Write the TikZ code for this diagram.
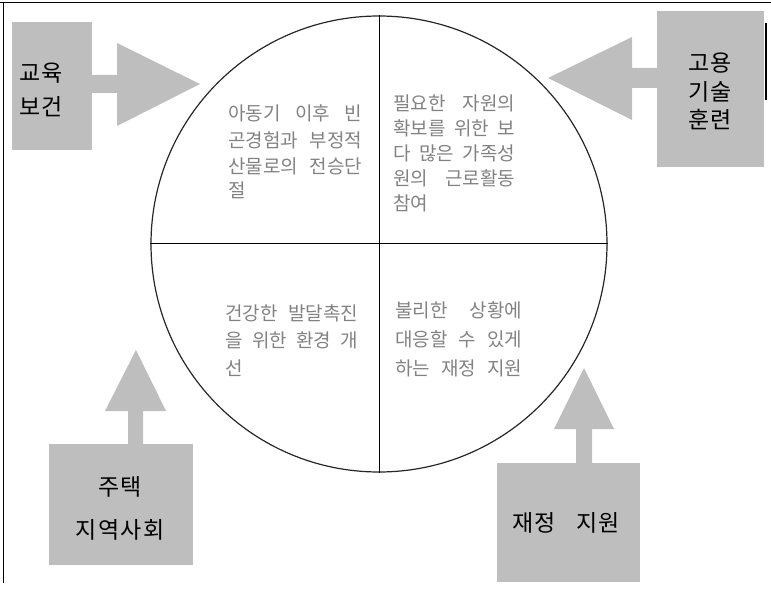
\documentclass[tikz,border=0pt]{standalone}
\usepackage{fontspec}
\setmainfont{Noto Sans CJK KR}
\newfontfamily\boxfont[LetterSpace=6]{Noto Sans CJK KR}
\definecolor{boxgray}{RGB}{190,190,190}
\definecolor{circtext}{RGB}{130,130,130}
\begin{document}
\begin{tikzpicture}[x=1pt,y=-1pt,
  graybox/.style={fill=boxgray, draw=none, inner sep=0pt},
  boxlabel/.style={font=\boxfont\fontsize{23}{28}\selectfont, align=center, text=black, inner sep=0pt},
  cirline/.style={font=\fontsize{19}{25}\selectfont, text=circtext, anchor=west, inner sep=0pt},
  blockarrow/.style={fill=boxgray, draw=none}]
\useasboundingbox (0,0) rectangle (771,593);
% frame
\draw[line width=1pt] (0,3) -- (771,3);
\draw[line width=1pt] (3,3) -- (3,583);
\draw[line width=1.5pt] (766,23) -- (766,100);
% circle and quadrants
\node[circle, draw=black!85, line width=1.2pt, minimum size=456pt, inner sep=0pt] (c) at (379,244) {};
\draw[line width=1pt] (c.north) -- (c.south);
\draw[line width=1pt] (c.west) -- (c.east);
% boxes
\path[graybox] (12,22) rectangle (92,150);
\node[boxlabel] (edu1) at (41,73) {교육};
\node[boxlabel] (edu2) at (41,107) {보건};
\path[graybox] (657,11) rectangle (764,167);
\node[boxlabel] (emp1) at (710,63) {고용};
\node[boxlabel] (emp2) at (710,92) {기술};
\node[boxlabel] (emp3) at (710,120) {훈련};
\path[graybox] (49,444) rectangle (193,565);
\node[boxlabel] (house1) at (120,487) {주택};
\node[boxlabel] (house2) at (120,530) {지역사회};
\path[graybox] (497,463) rectangle (640,582);
\node[boxlabel] (fin) at (566,523) {\makebox[108pt][s]{재정 지원}};
% block arrows
\path[blockarrow] (92,75) -- (117,75) -- (117,43) -- (200,84) -- (117,126) -- (117,93) -- (92,93) -- cycle;
\path[blockarrow] (657,68) -- (632,68) -- (632,37) -- (548,78) -- (632,120) -- (632,88) -- (657,88) -- cycle;
\path[blockarrow] (128,444) -- (128,411) -- (105,411) -- (136,350) -- (166,411) -- (143,411) -- (143,444) -- cycle;
\path[blockarrow] (576,463) -- (576,429) -- (554,429) -- (584,368) -- (614,429) -- (592,429) -- (592,463) -- cycle;
% circle texts
\node[cirline] (q1a) at (228,113) {\makebox[134pt][s]{아동기 이후 빈}};
\node[cirline] (q1b) at (228,140) {\makebox[134pt][s]{곤경험과 부정적}};
\node[cirline] (q1c) at (228,166) {\makebox[134pt][s]{산물로의 전승단}};
\node[cirline] (q1d) at (228,190) {절};
\node[cirline] (q2a) at (393,103) {\makebox[122pt][s]{필요한 자원의}};
\node[cirline] (q2b) at (393,128) {\makebox[122pt][s]{확보를 위한 보}};
\node[cirline] (q2c) at (393,153) {\makebox[122pt][s]{다 많은 가족성}};
\node[cirline] (q2d) at (393,178) {\makebox[122pt][s]{원의 근로활동}};
\node[cirline] (q2e) at (393,203) {참여};
\node[cirline] (q3a) at (225,313) {\makebox[133pt][s]{건강한 발달촉진}};
\node[cirline] (q3b) at (225,340) {\makebox[133pt][s]{을 위한 환경 개}};
\node[cirline] (q3c) at (225,368) {선};
\node[cirline] (q4a) at (395,310) {\makebox[127pt][s]{불리한 상황에}};
\node[cirline] (q4b) at (395,339) {\makebox[127pt][s]{대응할 수 있게}};
\node[cirline] (q4c) at (395,368) {\makebox[127pt][s]{하는 재정 지원}};
\end{tikzpicture}
\end{document}
